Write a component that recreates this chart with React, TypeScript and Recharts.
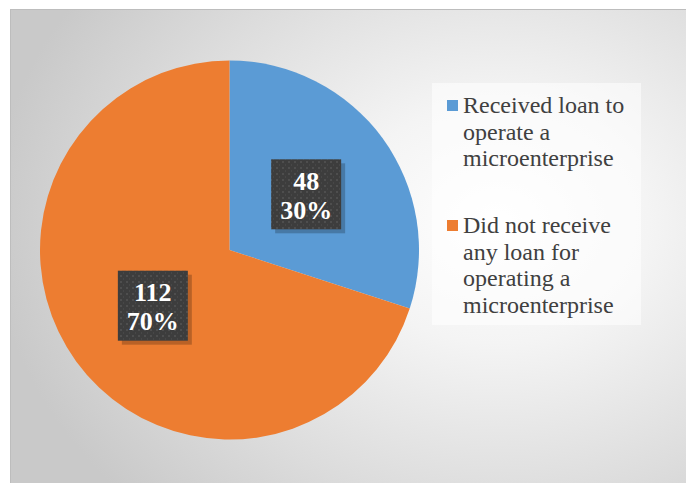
import React from 'react';
import { PieChart, Pie, Cell, Legend } from 'recharts';

const categories = [
  'Received loan to operate a microenterprise',
  'Did not receive any loan for operating a microenterprise',
];
const counts = [48, 112];
const percents = ['30%', '70%'];
const COLORS = ['#5B9BD5', '#ED7D31'];

const W = 676;
const H = 474;

const data = categories.map((name, i) => ({ name, value: counts[i], pct: percents[i] }));

// dark textured data label box
const renderLabel = ({ cx, cy, midAngle, outerRadius, index }: any) => {
  const RADIAN = Math.PI / 180;
  const r = outerRadius * 0.5;
  const x = cx + r * Math.cos(-midAngle * RADIAN);
  const y = cy + r * Math.sin(-midAngle * RADIAN);
  const s = 70;
  return (
    <g key={`lbl-${index}`}>
      <rect x={x - s / 2 + 4} y={y - s / 2 + 4} width={s} height={s} fill="rgba(0,0,0,0.22)" />
      <rect x={x - s / 2} y={y - s / 2} width={s} height={s} fill="url(#dotPattern)" />
      <text
        x={x}
        y={y - 4.5}
        textAnchor="middle"
        fill="#ffffff"
        fontFamily="'Liberation Serif', 'Times New Roman', serif"
        fontWeight="bold"
        fontSize={26}
      >
        {data[index].value}
      </text>
      <text
        x={x}
        y={y + 24.5}
        textAnchor="middle"
        fill="#ffffff"
        fontFamily="'Liberation Serif', 'Times New Roman', serif"
        fontWeight="bold"
        fontSize={26}
      >
        {data[index].pct}
      </text>
    </g>
  );
};

const renderLegend = () => (
  <div
    style={{
      width: 209,
      height: 242,
      boxSizing: 'border-box',
      paddingTop: 9,
      background: 'rgba(255,255,255,0.55)',
      fontFamily: "'Liberation Serif', 'Times New Roman', serif",
      fontSize: 24,
      lineHeight: '26.5px',
      color: '#404040',
    }}
  >
    {data.map((d, i) => (
      <div key={d.name} style={{ display: 'flex', marginTop: i === 0 ? 0 : 40.5 }}>
        <div
          style={{
            width: 11,
            height: 11,
            marginLeft: 15,
            marginTop: 8,
            marginRight: 5,
            background: COLORS[i],
            flexShrink: 0,
          }}
        />
        <div style={{ width: 176 }}>{d.name}</div>
      </div>
    ))}
  </div>
);

export default function App() {
  return (
    <div
      style={{
        position: 'absolute',
        left: 10,
        top: 9,
        width: W,
        height: H,
        boxSizing: 'border-box',
        borderLeft: '1px solid #bdbdbd',
        borderTop: '1px solid #bdbdbd',
        background:
          'radial-gradient(ellipse 75% 85% at 72% 45%, #ffffff 0%, #f4f4f4 30%, #dcdcdc 70%, #c9c9c9 100%)',
      }}
    >
      <svg width={0} height={0} style={{ position: 'absolute' }}>
        <defs>
          <pattern id="dotPattern" x={0} y={0} width={6} height={6} patternUnits="userSpaceOnUse">
            <rect x={0} y={0} width={6} height={6} fill="#3d3d3d" />
            <rect x={1} y={1} width={2} height={2} fill="#4e4e4e" />
            <rect x={4} y={4} width={1} height={2} fill="#474747" />
          </pattern>
        </defs>
      </svg>
      <PieChart width={W - 1} height={H - 1} margin={{ top: 0, right: 0, bottom: 0, left: 0 }}>
        <Pie
          data={data}
          dataKey="value"
          nameKey="name"
          cx={218.5}
          cy={240}
          outerRadius={189.5}
          startAngle={90}
          endAngle={-270}
          stroke="none"
          labelLine={false}
          label={renderLabel}
          isAnimationActive={false}
        >
          {data.map((d, i) => (
            <Cell key={d.name} fill={COLORS[i]} />
          ))}
        </Pie>
        <Legend
          content={renderLegend}
          wrapperStyle={{ position: 'absolute', left: 421, top: 73, width: 209, height: 242 }}
        />
      </PieChart>
    </div>
  );
}
